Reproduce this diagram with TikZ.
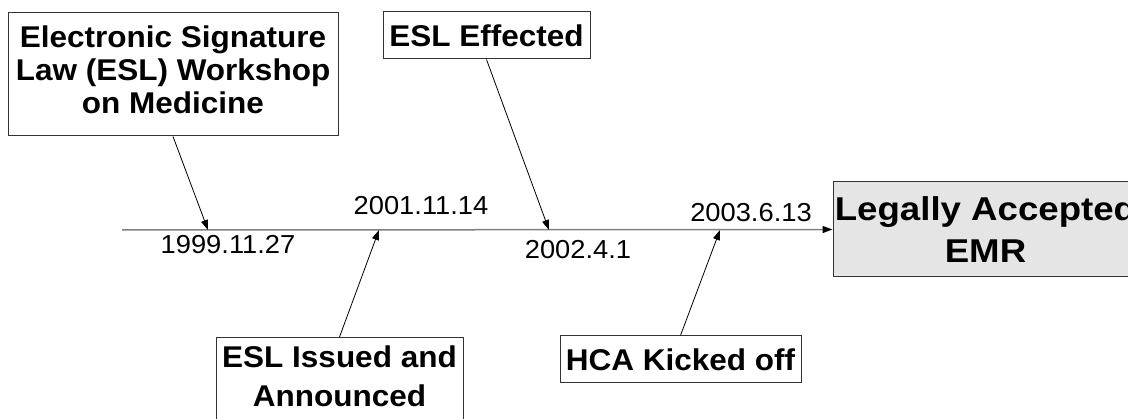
\documentclass[tikz,border=0pt]{standalone}
\usepackage{fontspec}
\setmainfont{Liberation Sans}
\newfontfamily\boxfont[FakeStretch=1.05]{Liberation Sans}
\newfontfamily\goalfont[FakeStretch=1.11]{Liberation Sans}
\newfontfamily\datefont[FakeStretch=1.05]{Liberation Sans}
\usetikzlibrary{arrows.meta}
\begin{document}
\begin{tikzpicture}[x=1pt,y=1pt,
  evbox/.style={draw=black!80, line width=1pt, fill=white, align=center,
    font=\boxfont\bfseries\fontsize{30}{33}\selectfont, inner sep=0pt},
  goalbox/.style={draw=black!80, line width=1pt, fill=black!10, align=center,
    font=\goalfont\bfseries\fontsize{33}{42}\selectfont, inner sep=0pt},
  datelabel/.style={font=\datefont\fontsize{26}{30}\selectfont, inner sep=0pt},
  conn/.style={draw=black, line width=0.8pt, -{Triangle[length=10pt,width=7pt]}},
  axisline/.style={draw=black!50, line width=1.5pt, -{Triangle[length=10pt,width=7pt,color=black]}},
]
\useasboundingbox (0,0) rectangle (1128,418);
\clip (0,0) rectangle (1128,418);

% event boxes
\node[evbox, minimum width=330pt, minimum height=123pt, text depth=10pt] (b1) at (173,343.5)
  {Electronic Signature\\Law (ESL) Workshop\\on Medicine};
\node[evbox, minimum width=207pt, minimum height=47pt] (b2) at (486.5,382.5)
  {ESL Effected};
\node[evbox, minimum width=247pt, anchor=north, inner ysep=8pt, text depth=30pt,
  font=\boxfont\bfseries\fontsize{30}{39}\selectfont] (b3) at (339.5,81)
  {ESL Issued and\\Announced};
\node[evbox, minimum width=241pt, minimum height=47pt] (b4) at (680.5,58.5)
  {HCA Kicked off};
\node[goalbox, minimum width=305pt, minimum height=95pt] (b5) at (985.5,188.5)
  {Legally Accepted\\EMR};

% timeline
\coordinate (start) at (122,188);
\coordinate (t1) at (208,188);
\coordinate (t2) at (379,188);
\coordinate (t3) at (549,188);
\coordinate (t4) at (720,188);
\draw[axisline] (start) -- (b5.west);

% date labels
\node[datelabel] (d1) at (228,173) {1999.11.27};
\node[datelabel] (d2) at (421,212) {2001.11.14};
\node[datelabel] (d3) at (578,168) {2002.4.1};
\node[datelabel] (d4) at (751,205) {2003.6.13};

% connectors
\draw[conn] (b1.south) -- (t1);
\draw[conn] (b2.south) -- (t3);
\draw[conn] (b3.north) -- (t2);
\draw[conn] (b4.north) -- (t4);
\end{tikzpicture}
\end{document}
